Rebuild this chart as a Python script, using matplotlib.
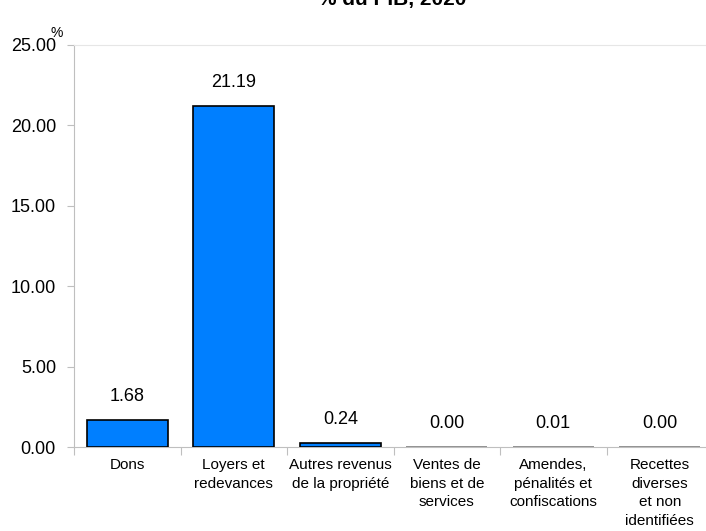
import matplotlib.pyplot as plt

categories = ['Dons', 'Loyers et\nredevances', 'Autres revenus\nde la propriété',
              'Ventes de\nbiens et de\nservices', 'Amendes,\npénalités et\nconfiscations',
              'Recettes\ndiverses\net non\nidentifiées']
values = [1.68, 21.19, 0.24, 0.00, 0.01, 0.00]
yticks = [0, 5, 10, 15, 20, 25]

plt.rcParams['font.family'] = ['Liberation Sans', 'DejaVu Sans']

fig = plt.figure(figsize=(7.06, 5.31), dpi=100)
ax = fig.add_axes([74 / 706, 84 / 531, 639 / 706, 402 / 531])

x = list(range(len(categories)))
edges = ['black' if v >= 0.1 else '#808080' for v in values]
ax.bar(x, values, width=0.76, color='#007FFF', edgecolor=edges, linewidth=1.2, zorder=3)

# value labels above the bars
for xi, v in zip(x, values):
    ax.annotate(f'{v:.2f}', (xi, v), xytext=(0, 11), textcoords='offset points',
                ha='center', va='bottom', fontsize=13)

ax.set_xlim(-0.5, len(categories) - 0.5)
ax.set_ylim(0, 25)
ax.set_yticks(yticks)
ax.set_yticklabels([f'{t:.2f}' for t in yticks], fontsize=13)

# ticks between categories, labels centered
ax.set_xticks([i - 0.5 for i in range(len(categories) + 1)])
ax.set_xticklabels([])
ax.set_xticks(x, minor=True)
ax.set_xticklabels(categories, minor=True, fontsize=11, linespacing=1.42)
ax.tick_params(axis='x', which='minor', length=0, pad=8)
ax.tick_params(axis='x', which='major', length=6, color='#bfbfbf')
ax.tick_params(axis='y', length=5, color='#bfbfbf', pad=8)

for s in ['left', 'bottom']:
    ax.spines[s].set_color('#bfbfbf')
ax.spines['top'].set_color('#e6e6e6')
ax.spines['right'].set_visible(False)

fig.text(57 / 706, 1 - 33 / 531, '%', fontsize=10, ha='center', va='center')
fig.text(392 / 706, 1 - 5 / 531, '% du PIB, 2020', fontsize=15, fontweight='bold',
         ha='center', va='baseline')

fig.savefig('out.png', dpi=100)
